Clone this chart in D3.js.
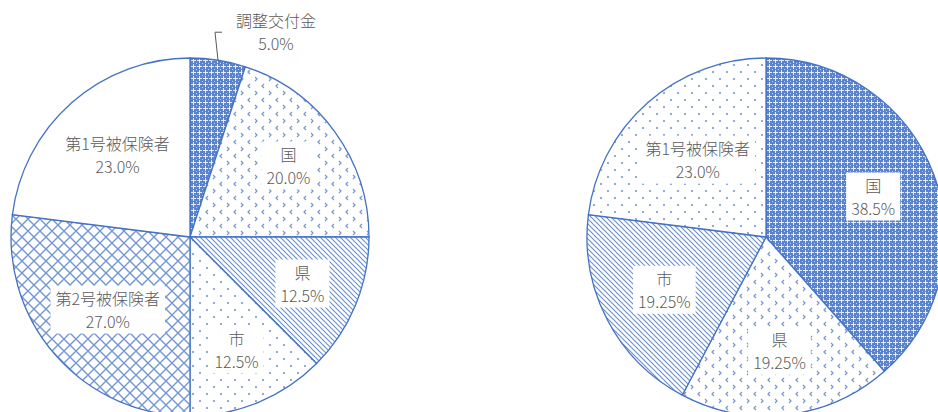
<!DOCTYPE html>
<html>
<head>
  <meta charset="utf-8">
  <script src="https://d3js.org/d3.v7.min.js"></script>
  <style>
    body { margin: 0; background: #fff; }
    text { font-family: "Noto Sans CJK JP", "Noto Sans", sans-serif; fill: #5a5a5a; font-size: 16px; font-weight: 300; }
  </style>
</head>
<body>
  <svg width="938" height="412"></svg>
  <script>
    // left chart
    var leftLabels = ["調整交付金", "国", "県", "市", "第2号被保険者", "第1号被保険者"];
    var leftValues = [5.0, 20.0, 12.5, 12.5, 27.0, 23.0];
    var leftFills = ["dense", "chevron", "stripes", "dots", "grid", "none"];
    // right chart
    var rightLabels = ["国", "県", "市", "第1号被保険者"];
    var rightValues = [38.5, 19.25, 19.25, 23.0];
    var rightFills = ["dense", "chevron", "stripes", "dots"];

    var blue = "#4472C4";
    var svg = d3.select("svg");
    var defs = svg.append("defs");

    function pat(id, w, h) {
      return defs.append("pattern").attr("id", id)
        .attr("patternUnits", "userSpaceOnUse")
        .attr("width", w).attr("height", h);
    }

    var p = pat("dense", 6, 6);
    p.append("rect").attr("width", 6).attr("height", 6).attr("fill", "#5a83cc");
    p.append("rect").attr("x", 1).attr("y", 3).attr("width", 5).attr("height", 1).attr("fill", "#e4ebf7");
    p.append("rect").attr("x", 3).attr("y", 1).attr("width", 1).attr("height", 5).attr("fill", "#e4ebf7");
    p.append("rect").attr("x", 0).attr("y", 0).attr("width", 1).attr("height", 1).attr("fill", "#c3d2ee");

    p = pat("chevron", 14, 14);
    p.append("rect").attr("width", 14).attr("height", 14).attr("fill", "#fff");
    p.append("path").attr("d", "M4,1 L2,3 L4,5").attr("fill", "none").attr("stroke", "#7595d3").attr("stroke-width", 1.2);
    p.append("path").attr("d", "M9,8 L11,10 L9,12").attr("fill", "none").attr("stroke", "#7595d3").attr("stroke-width", 1.2);

    p = pat("stripes", 5, 5);
    p.append("rect").attr("width", 5).attr("height", 5).attr("fill", "#fff");
    p.append("path").attr("d", "M-1,-1 L6,6 M-1,4 L1,6 M4,-1 L6,1")
      .attr("stroke", "#6a8fd1").attr("stroke-width", 1.1);

    p = pat("dots", 14, 14);
    p.append("rect").attr("width", 14).attr("height", 14).attr("fill", "#fff");
    p.append("rect").attr("x", 2).attr("y", 2).attr("width", 2).attr("height", 2).attr("fill", "#8faadc");
    p.append("rect").attr("x", 9).attr("y", 9).attr("width", 2).attr("height", 2).attr("fill", "#8faadc");

    p = pat("grid", 12, 12);
    p.append("rect").attr("width", 12).attr("height", 12).attr("fill", "#fff");
    p.append("path").attr("d", "M0,0 L12,12 M12,0 L0,12")
      .attr("stroke", "#7397d6").attr("stroke-width", 1.4);

    var r = 179;
    var arc = d3.arc().innerRadius(0).outerRadius(r);
    var pie = d3.pie().sort(null).value(function(d) { return d.value; });

    function fmt(v) {
      return (Math.round(v * 10) === v * 10 ? v.toFixed(1) : v.toFixed(2)) + "%";
    }

    function drawPie(cx, cy, labels, values, fills, labelK, outside) {
      var data = labels.map(function(l, i) { return { label: l, value: values[i], fill: fills[i] }; });
      var g = svg.append("g").attr("transform", "translate(" + cx + "," + cy + ")");
      var arcs = pie(data);

      g.selectAll("path.slice").data(arcs).enter().append("path")
        .attr("class", "slice")
        .attr("d", arc)
        .attr("fill", function(d) { return d.data.fill === "none" ? "#fff" : "url(#" + d.data.fill + ")"; })
        .attr("stroke", blue)
        .attr("stroke-width", 1.3);

      var labelArc = d3.arc().innerRadius(r * labelK).outerRadius(r * labelK);

      arcs.forEach(function(d) {
        var lg = g.append("g");
        var x, y, box = null;
        if (outside && outside.indexOf(d.data.label) >= 0) {
          var a = (d.startAngle + d.endAngle) / 2;
          var px = r * Math.sin(a), py = -r * Math.cos(a);
          var ey = py - 28;
          var ex = px - 3;
          g.append("path")
            .attr("d", "M" + px + "," + py + "L" + ex + "," + ey + "L" + (ex + 7) + "," + ey)
            .attr("fill", "none").attr("stroke", "#595959").attr("stroke-width", 1);
          x = ex + 61; y = ey - 1;
        } else {
          var c = labelArc.centroid(d);
          // wide labels sit a little closer to the centre
          var k = d.data.label.length > 3 ? 0.9 : 1;
          x = c[0] * k; y = c[1] * k;
          box = lg.append("rect").attr("fill", "#fff");
        }
        var t1 = lg.append("text").attr("x", x).attr("y", y - 11.5)
          .attr("text-anchor", "middle").attr("dominant-baseline", "central").text(d.data.label);
        var t2 = lg.append("text").attr("x", x).attr("y", y + 11.5)
          .attr("text-anchor", "middle").attr("dominant-baseline", "central").text(fmt(d.data.value));
        if (box) {
          var w = Math.max(t1.node().getBBox().width, t2.node().getBBox().width) + 10;
          box.attr("x", x - w / 2).attr("y", y - 24).attr("width", w).attr("height", 48);
        }
      });
    }

    drawPie(190, 237, leftLabels, leftValues, leftFills, 0.68, ["調整交付金"]);
    drawPie(766, 237, rightLabels, rightValues, rightFills, 0.64, null);
  </script>
</body>
</html>
